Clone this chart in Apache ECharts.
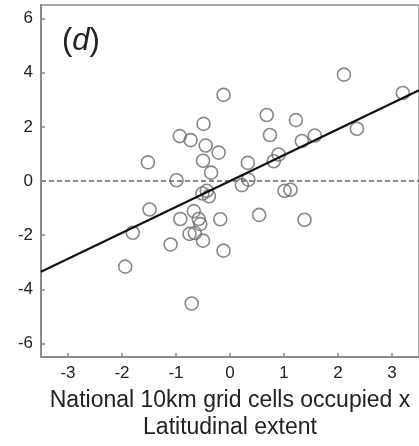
<!DOCTYPE html>
<html><head><meta charset="utf-8">
<script src="https://cdn.jsdelivr.net/npm/echarts@6/dist/echarts.min.js"></script>
<style>html,body{margin:0;padding:0;background:#fff}#c{width:419px;height:446px}</style>
</head><body><div id="c"></div>
<script>
// scatter points [x, y]
const pointsX = [-1.52,-0.99,-0.93,-0.73,-0.49,-0.45,-0.21,-0.50,-0.35,-0.12,0.68,0.74,0.33,0.34,0.22,0.81,0.90,1.22,1.33,1.57,2.11,2.35,3.20,1.01,1.12,-0.51,-0.43,-0.39,-1.49,-0.67,-0.92,-0.58,-0.55,-0.18,0.54,1.38,-1.80,-0.75,-0.65,-0.50,-1.10,-0.12,-1.94,-0.71];
const pointsY = [0.69,0.03,1.66,1.51,2.11,1.31,1.05,0.75,0.31,3.18,2.44,1.70,0.67,0.05,-0.15,0.73,0.98,2.25,1.48,1.68,3.93,1.93,3.25,-0.36,-0.32,-0.46,-0.36,-0.56,-1.05,-1.11,-1.40,-1.40,-1.59,-1.41,-1.25,-1.43,-1.91,-1.95,-1.92,-2.20,-2.34,-2.57,-3.16,-4.52];
// fitted line endpoints
const fitX = [-3.5, 3.5];
const fitY = [-3.35, 3.35];
// zero reference line
const zeroX = [-3.5, 3.5];
const zeroY = [0, 0];
const xTicks = [-3,-2,-1,0,1,2,3];
const yTicks = [-6,-4,-2,0,2,4,6];
const xTitle = 'National 10km grid cells occupied x\nLatitudinal extent';

const axisColor = '#8a8a8a';
const chart = echarts.init(document.getElementById('c'));
chart.setOption({
  animation: false,
  grid: {left: 41, top: 5, right: -3, bottom: 84, show: true, borderColor: axisColor, borderWidth: 1.5},
  xAxis: {
    type: 'value', min: -3.5, max: 3.5,
    axisLine: {show: true, onZero: false, lineStyle: {color: axisColor, width: 2}},
    axisTick: {show: true, inside: true, length: 4, customValues: xTicks, lineStyle: {color: axisColor, width: 1.5}},
    axisLabel: {customValues: xTicks, color: '#222', fontSize: 17, fontFamily: 'Liberation Sans', margin: 8},
    splitLine: {show: false},
    name: xTitle, nameLocation: 'middle', nameGap: 27,
    nameTextStyle: {color: '#222', fontSize: 23, fontFamily: 'Liberation Sans', lineHeight: 27, verticalAlign: 'top'}
  },
  yAxis: {
    type: 'value', min: -6.5, max: 6.5,
    axisLine: {show: true, onZero: false, lineStyle: {color: axisColor, width: 2}},
    axisTick: {show: true, inside: true, length: 4, customValues: yTicks, lineStyle: {color: axisColor, width: 1.5}},
    axisLabel: {customValues: yTicks, color: '#222', fontSize: 17, fontFamily: 'Liberation Sans', margin: 8},
    splitLine: {show: false}
  },
  graphic: [{
    type: 'text', left: 62, top: 26,
    style: {
      text: '{a|(}{b|d}{a|)}',
      rich: {
        a: {fontSize: 31, fontFamily: 'Liberation Sans', fill: '#222'},
        b: {fontSize: 31, fontFamily: 'Liberation Sans', fontStyle: 'italic', fill: '#222'}
      }
    }
  }],
  series: [
    {
      type: 'line', data: zeroX.map((x, i) => [x, zeroY[i]]), symbol: 'none',
      lineStyle: {color: '#888', width: 2, type: [5, 3]}, z: 1
    },
    {
      type: 'scatter', data: pointsX.map((x, i) => [x, pointsY[i]]), symbol: 'circle', symbolSize: 13,
      itemStyle: {color: 'rgba(255,255,255,0)', borderColor: '#6a6a6a', borderWidth: 1.6}, z: 2
    },
    {
      type: 'line', data: fitX.map((x, i) => [x, fitY[i]]), symbol: 'none',
      lineStyle: {color: '#111', width: 2.2}, z: 3
    }
  ]
});
</script></body></html>
